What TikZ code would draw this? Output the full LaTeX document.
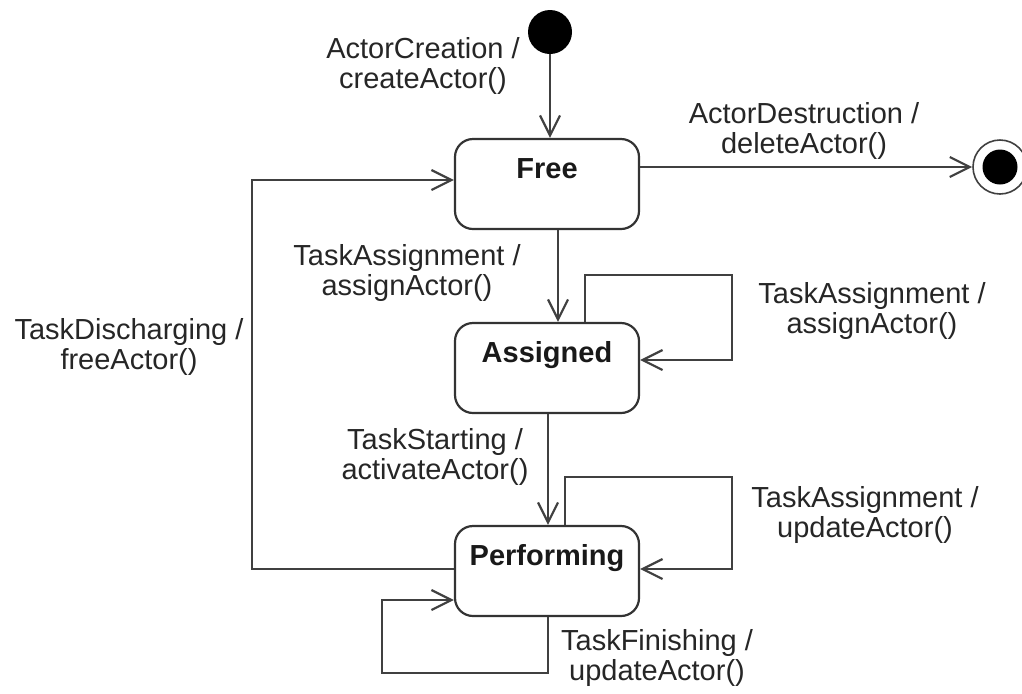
\documentclass[tikz,border=0pt]{standalone}
\usepackage{fontspec}
\setmainfont{Liberation Sans}
\usetikzlibrary{arrows.meta,positioning,calc}

\begin{document}
\begin{tikzpicture}[
  x=0.5pt, y=-0.5pt,
  st/.style={draw=black!80, line width=1.1pt, rounded corners=9pt,
             minimum width=92pt, minimum height=45pt, text=black!90,
             font=\bfseries\fontsize{14.5}{15}\selectfont,
             text height=10.5pt, text depth=16pt},
  lbl/.style={align=center, inner sep=0pt, text=black!85,
              font=\fontsize{14.5}{15}\selectfont},
  dot/.style={circle, fill=black, inner sep=0pt},
  tr/.style={-{Straight Barb[length=10pt,width=10pt]}, line width=1.1pt, draw=black!75}
]
\useasboundingbox (0,0) rectangle (1022,693);
\node[st] (free) at (547,184) {Free};
\node[st] (asg) at (547,368) {Assigned};
\node[st] (perf) at (547,571) {Performing};
\node[dot, minimum size=22pt] (init) at (550,32) {};
\node[circle, draw=black!75, line width=0.8pt, minimum size=27pt, inner sep=0pt] (fin) at (1000,167) {};
\node[dot, minimum size=17.5pt] (finc) at (fin) {};
\node[lbl] (lcreate) at (423,66) {ActorCreation /\\createActor()};
\node[lbl] (ldelete) at (804,131) {ActorDestruction /\\deleteActor()};
\node[lbl] (lassign) at (407,273) {TaskAssignment /\\assignActor()};
\node[lbl] (lreassign) at (872,311) {TaskAssignment /\\assignActor()};
\node[lbl] (lstart) at (435,457) {TaskStarting /\\activateActor()};
\node[lbl] (lupdate) at (865,515) {TaskAssignment /\\updateActor()};
\node[lbl] (lfinish) at (657,658) {TaskFinishing /\\updateActor()};
\node[lbl] (lfree) at (129,347) {TaskDischarging /\\freeActor()};
\draw[tr] (init) -- (init |- free.north);
\draw[tr] (free.east |- fin) -- (fin);
\draw[tr] ($(free.south)+(11,0)$) -- ($(asg.north)+(11,0)$);
\draw[tr] ($(asg.north)+(38,0)$) |- (732,275) |- ($(asg.east)+(0,-8)$);
\draw[tr] ($(asg.south)+(1,0)$) -- ($(perf.north)+(1,0)$);
\draw[tr] ($(perf.north)+(18,0)$) |- (732,477) |- ($(perf.east)+(0,-2)$);
\draw[tr] ($(perf.south)+(1,0)$) |- (382,673) |- ($(perf.west)+(0,29)$);
\draw[tr] ($(perf.west)+(0,-2)$) -| (252,180) -- ($(free.west)+(0,-4)$);
\end{tikzpicture}
\end{document}
